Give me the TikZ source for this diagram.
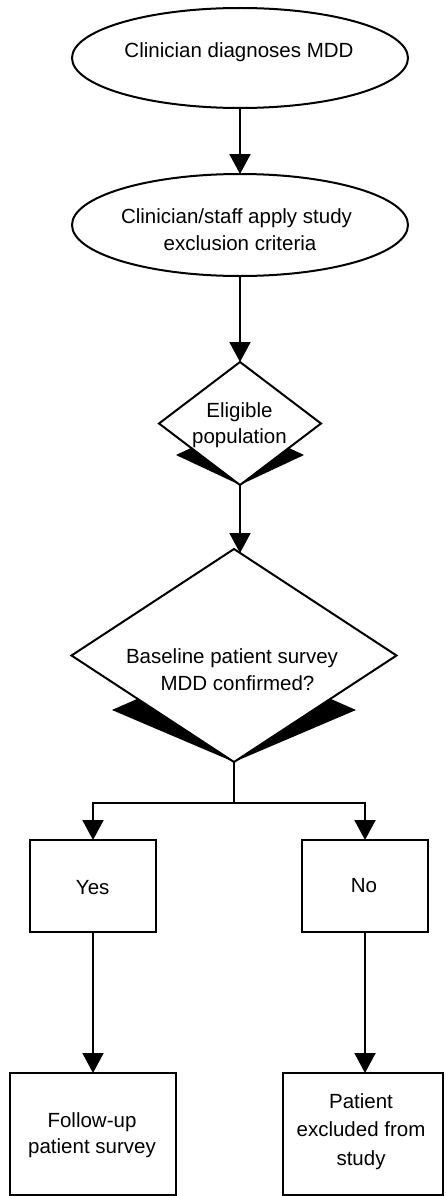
\documentclass[tikz,border=0pt]{standalone}
\usepackage{fontspec}
\setmainfont{Liberation Sans}
\usetikzlibrary{shapes.geometric,arrows.meta,calc}
\begin{document}
\begin{tikzpicture}[x=1pt,y=-1pt,
  line width=2pt,
  shp/.style={draw=black, line width=2pt, fill=white, inner sep=0pt, outer sep=0pt},
  oval/.style={shp, ellipse},
  dia/.style={shp, diamond},
  box/.style={shp, rectangle},
  txt/.style={inner sep=0pt, outer sep=0pt, align=center, text=black},
  fs/.style={font=\fontsize{20.5}{#1}\selectfont},
  arr/.style={draw=black, line width=2pt, -{Triangle[width=21pt,length=20pt]}},
  wedge/.style={fill=black, draw=none}]
\fill[white] (0,0) rectangle (445,1196);
\useasboundingbox (0,0) rectangle (445,1196);

% shapes
\node[oval, minimum width=336pt, minimum height=100pt] (e1) at (240,58) {};
\node[oval, minimum width=336pt, minimum height=102pt] (e2) at (240,225) {};
\node[dia, minimum width=162pt, minimum height=123pt] (d1) at (240,423.5) {};
\node[dia, minimum width=325pt, minimum height=213pt] (d2) at (234,655.5) {};
\node[box, minimum width=126pt, minimum height=92pt] (yes) at (93,886) {};
\node[box, minimum width=126pt, minimum height=92pt] (no) at (365,886) {};
\node[box, minimum width=166pt, minimum height=122pt] (fu) at (93,1134) {};
\node[box, minimum width=160pt, minimum height=122pt] (ex) at (363,1134) {};

% black wedges under the diamonds
\fill[wedge] ($(d1.south)+(-64,-30)$) -- ($(d1.south)+(-49,-37)$) -- (d1.south) -- cycle;
\fill[wedge] ($(d1.south)+(64,-30)$) -- ($(d1.south)+(49,-37)$) -- (d1.south) -- cycle;
\fill[wedge] ($(d2.south)+(-122,-52)$) -- ($(d2.south)+(-97,-63)$) -- (d2.south) -- cycle;
\fill[wedge] ($(d2.south)+(122,-52)$) -- ($(d2.south)+(97,-63)$) -- (d2.south) -- cycle;

% texts
\node[txt, fs=27] (t1) at (239,51.8) {Clinician diagnoses MDD};
\node[txt, fs=27] (t2) at (240,230) {Clinician/staff apply study\rule{7pt}{0pt}\\exclusion criteria};
\node[txt, fs=26] (t3) at (239.5,424.8) {Eligible\\population};
\node[txt, fs=27] (t4) at (237.5,669.2) {Baseline patient survey\rule{11pt}{0pt}\\MDD confirmed?};
\node[txt, fs=27] (t5) at (92.7,887.8) {Yes};
\node[txt, fs=27] (t6) at (364,885.6) {No};
\node[txt, fs=26] (t7) at (92,1134.8) {Follow-up\\patient survey};
\node[txt, fs=28.5] (t8) at (361,1131.3) {Patient\\excluded from\\study};

% connectors
\draw[arr] (e1.south) -- (e2.north);
\draw[arr] (e2.south) -- (e2.south |- d1.north);
\draw[arr] (d1.south) -- ($(d1.south |- d2.north)+(0,4)$);
\coordinate (j) at ($(d2.south)+(0,41)$);
\draw (d2.south) -- (j);
\draw[arr] (j) -| (yes.north);
\draw[arr] (j) -| (no.north);
\draw[arr] (yes.south) -- (fu.north);
\draw[arr] (no.south) -- (no.south |- ex.north);
\end{tikzpicture}
\end{document}
